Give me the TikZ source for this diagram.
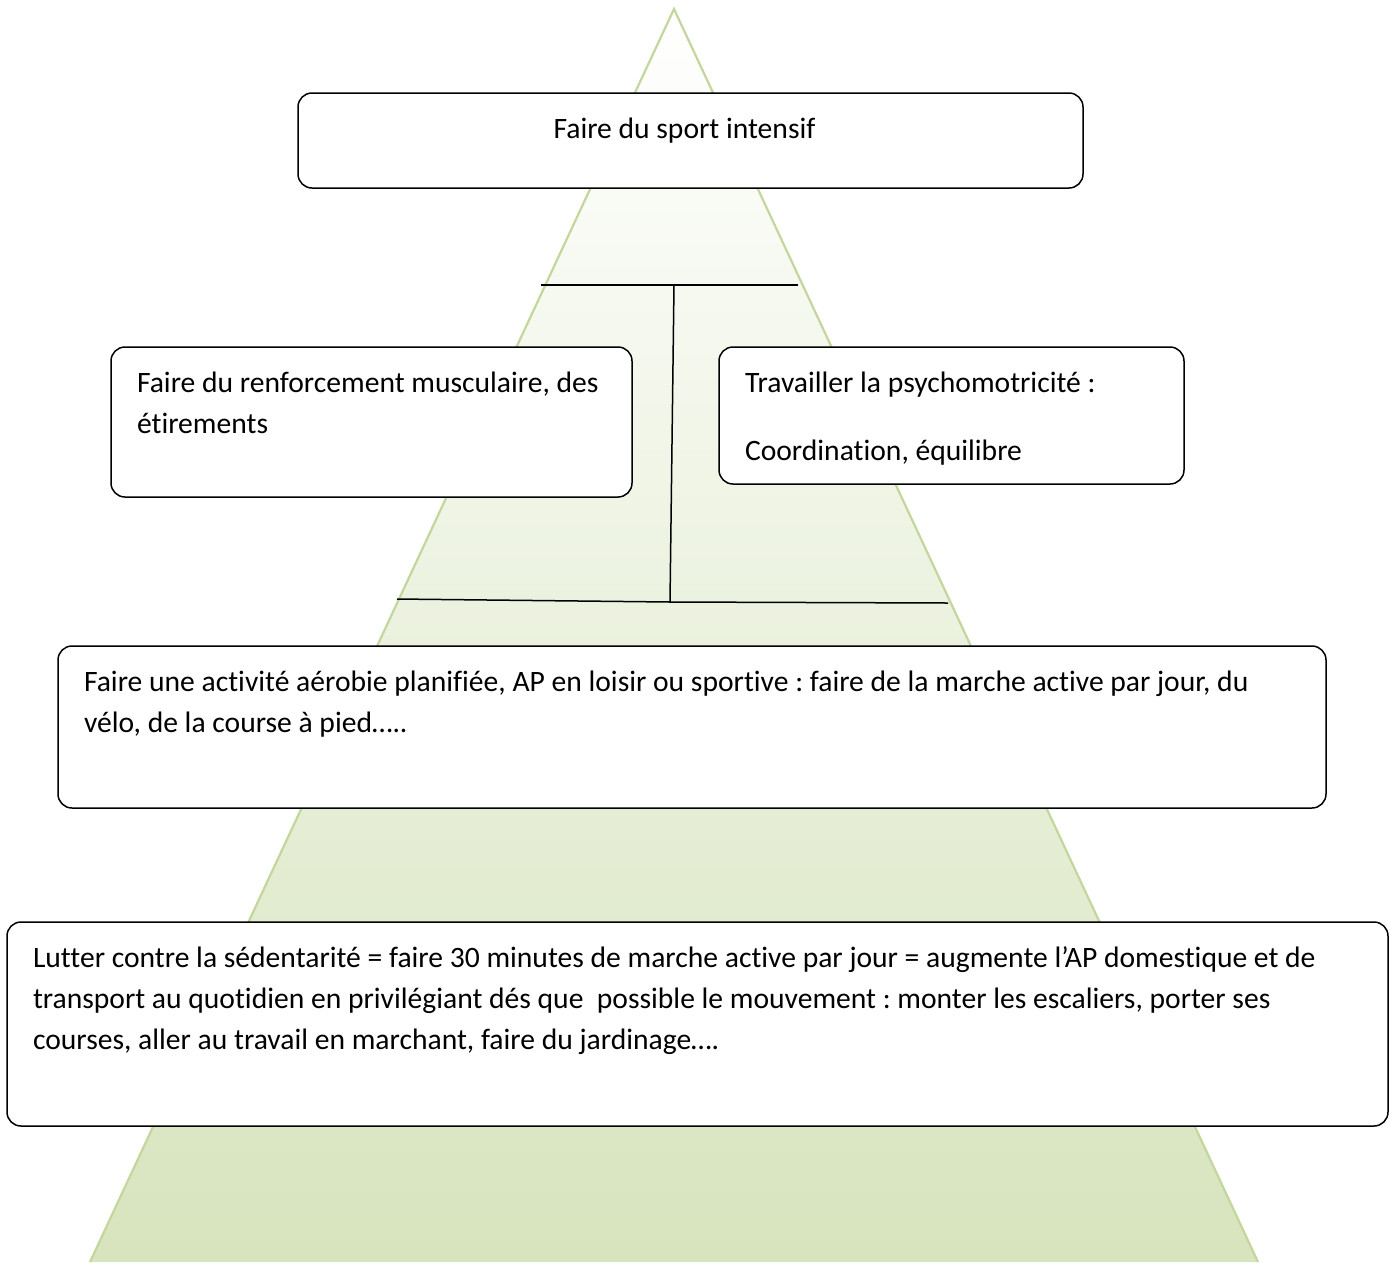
\documentclass[tikz,border=0pt]{standalone}
\usepackage{fontspec}
\setmainfont{Carlito}[Ligatures=NoCommon]
\usepackage{tikz}
\usetikzlibrary{shapes,arrows}
\usetikzlibrary{positioning}
\frenchspacing
\definecolor{pyrfill}{HTML}{D7E4BD}
\definecolor{pyredge}{HTML}{C3D69B}
\newcommand{\boxtext}[3]{\parbox[c][#2][t]{#1}{\raggedright\rule{0pt}{45pt}#3}}
\tikzstyle{every node} = [font=\fontsize{29.6}{41}\selectfont]
\tikzstyle{bloc} = [rectangle, draw, fill=white, rounded corners=14pt,
    line width=1.5pt, inner xsep=26pt, inner ysep=0pt]
\tikzstyle{pyramid} = [draw=pyredge, line width=2.2pt]
\tikzstyle{bar} = [draw, line width=1.5pt]

\begin{document}
\begin{tikzpicture}[x=1pt, y=-1pt]
  \useasboundingbox (0,0) rectangle (1390,1262);
  % Pyramid
  \coordinate (top) at (674,9);
  \coordinate (baseL) at (90,1262);
  \coordinate (baseR) at (1258,1262);
  \shade [top color=white, bottom color=pyrfill] (top) -- (baseR) -- (baseL) -- cycle;
  \path [pyramid] (baseL) -- (top) -- (baseR);

  % Bars
  \coordinate (barTL) at (541,285);
  \coordinate (barTR) at (798,285);
  \coordinate (barTM) at (674,285);
  \coordinate (barBM) at (670,602);
  \coordinate (barBL) at (397,599);
  \coordinate (barBR) at (948,603);
  \path [bar] (barTL) -- (barTR);
  \path [bar] (barTM) -- (barBM);
  \path [bar] (barBL) -- (barBM) -- (barBR);

  % Place nodes
  \node [bloc] (sport) at (690.5,140.5)
    {\boxtext{733pt}{95pt}{\centering\hspace*{-12pt}Faire du sport intensif}};
  \node [bloc] (renfo) at (371.5,422)
    {\boxtext{469pt}{150pt}{Faire du renforcement musculaire, des\\ étirements}};
  \node [bloc] (psycho) at (951.5,415.5)
    {\boxtext{413pt}{137pt}{Travailler la psychomotricité :\\[27pt] Coordination, équilibre}};
  \node [bloc] (aerobie) at (692,727)
    {\boxtext{1216pt}{162pt}{Faire une activité aérobie planifiée, AP en loisir ou sportive : faire de la marche active par jour, du\\ vélo, de la course à pied…..}};
  \node [bloc] (sedent) at (697.5,1024)
    {\boxtext{1329pt}{204pt}{Lutter contre la sédentarité = faire 30 minutes de marche active par jour = augmente l’AP domestique et de\\ transport au quotidien en privilégiant dés que~ possible le mouvement : monter les escaliers, porter ses\\ courses, aller au travail en marchant, faire du jardinage….}};

\end{tikzpicture}
\end{document}
